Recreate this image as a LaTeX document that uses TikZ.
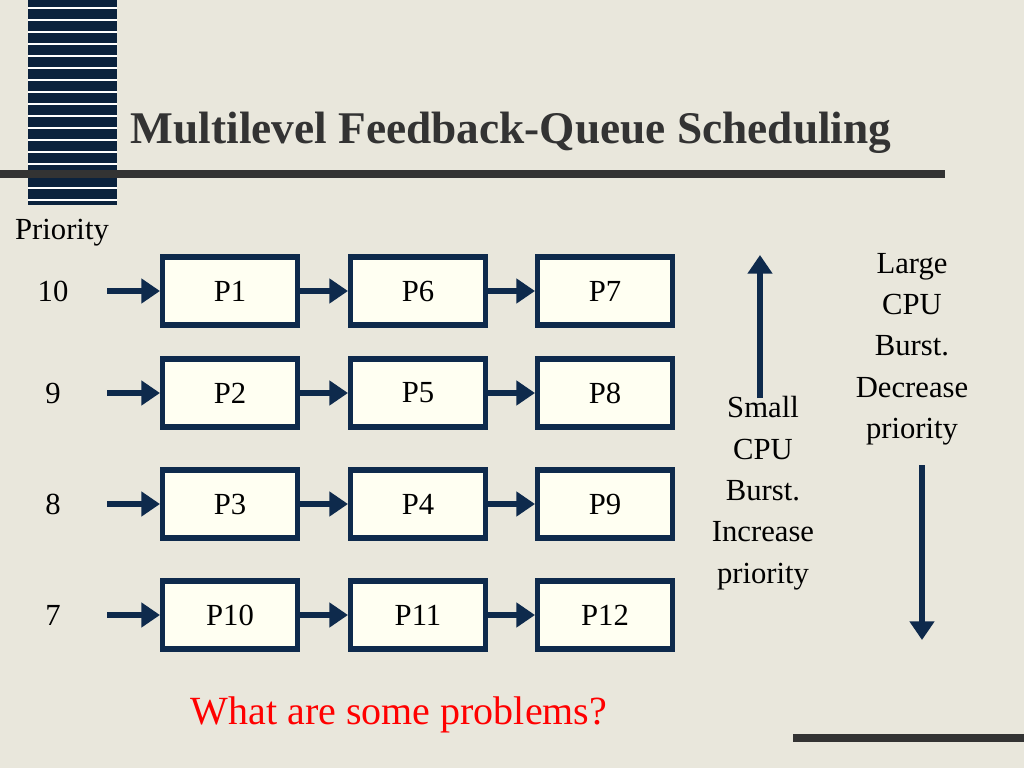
\documentclass[tikz,border=0pt]{standalone}
\usepackage{fontspec}
\setmainfont{Liberation Serif}
\usetikzlibrary{arrows.meta}
\definecolor{bg}{HTML}{E9E7DC}
\definecolor{navy}{HTML}{0E2A4C}
\definecolor{cream}{HTML}{FFFFF2}
\definecolor{ttl}{HTML}{333333}
\begin{document}
\begin{tikzpicture}[x=0.75pt,y=-0.75pt,
 pbox/.style={draw=navy,line width=4pt,fill=cream,minimum width=101pt,minimum height=51pt,font=\fontsize{23}{26}\selectfont},
 arr/.style={navy,line width=4.5pt,-{Triangle[length=14pt,width=18pt]}},
 lbl/.style={font=\fontsize{23}{26}\selectfont},
 side/.style={font=\fontsize{23}{31}\selectfont,align=center}]
\useasboundingbox (0,0) rectangle (1024,768);
\fill[bg] (0,0) rectangle (1024,768);
\fill[navy!80!black] (28,0) rectangle (117,205);
\foreach \y in {8,20,...,200} \draw[white,line width=1.2pt] (28,\y) -- (117,\y);
\fill[ttl] (0,170) rectangle (945,178);
\fill[ttl] (793,734) rectangle (1024,742);
\node[font=\fontsize{34}{38}\selectfont\bfseries,text=ttl] (title) at (511,133) {Multilevel Feedback-Queue Scheduling};
\node[lbl] (prio) at (62,233) {Priority};
\foreach \r/\y/\n/\a/\b/\c in {1/291/10/P1/P6/P7,2/393/9/P2/P5/P8,3/504/8/P3/P4/P9,4/615/7/P10/P11/P12}{
 \node[lbl] (n\r) at (53,\y) {\n};
 \coordinate (s\r) at (107,\y);
 \node[pbox] (a\r) at (230,\y) {\a};
 \node[pbox] (b\r) at (418,\y) {\b};
 \node[pbox] (c\r) at (605,\y) {\c};
 \draw[arr] (s\r) -- (a\r);
 \draw[arr] (a\r) -- (b\r);
 \draw[arr] (b\r) -- (c\r);
}
\coordinate (u0) at (760,398); \coordinate (u1) at (760,255);
\draw[arr] (u0) -- (u1);
\coordinate (d0) at (922,465); \coordinate (d1) at (922,640);
\draw[arr] (d0) -- (d1);
\node[side] (small) at (763,493) {Small\\CPU\\Burst.\\Increase\\priority};
\node[side] (large) at (912,349) {Large\\CPU\\Burst.\\Decrease\\priority};
\node[font=\fontsize{30}{34}\selectfont,text=red] (q) at (399,715) {What are some problems?};
\end{tikzpicture}
\end{document}
